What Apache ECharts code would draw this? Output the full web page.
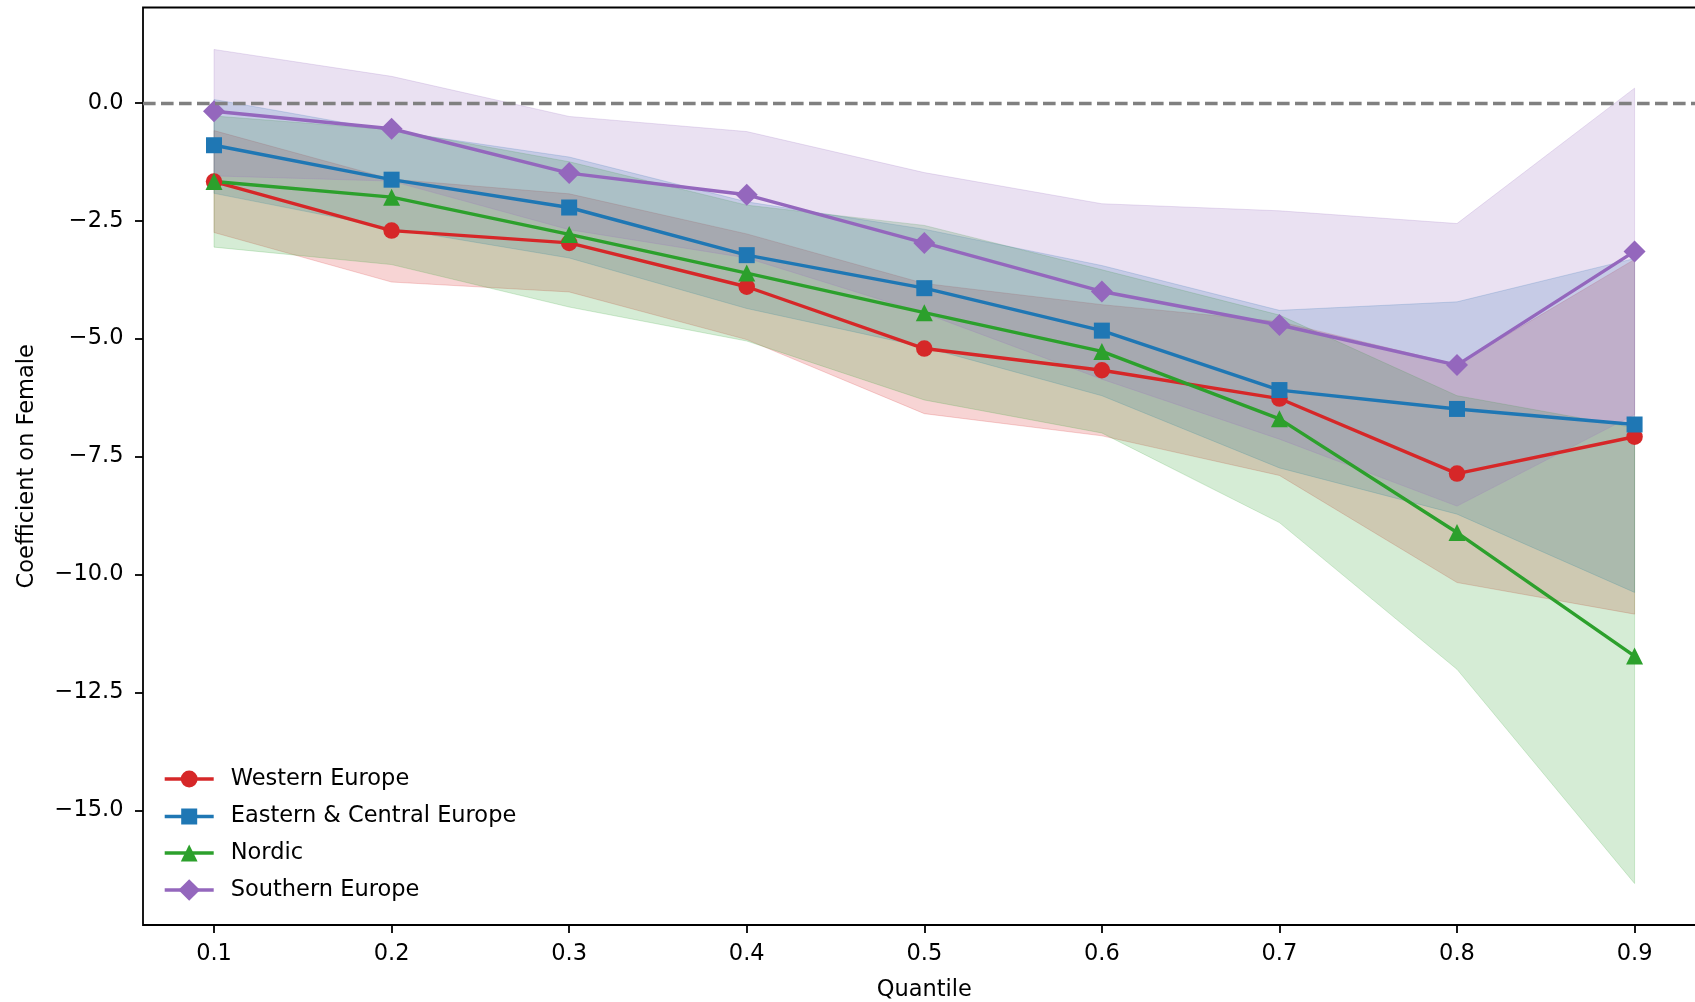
<!DOCTYPE html>
<html>
<head>
<meta charset="utf-8">
<script src="https://cdn.jsdelivr.net/npm/echarts@6/dist/echarts.min.js"></script>
<style>
  html, body { margin: 0; padding: 0; background: #fff; }
  #chart { width: 1695px; height: 1002px; }
</style>
</head>
<body>
<div id="chart"></div>
<script>
// ---------------- data ----------------
const quantiles = [0.1, 0.2, 0.3, 0.4, 0.5, 0.6, 0.7, 0.8, 0.9];
const seriesNames = ['Western Europe', 'Eastern & Central Europe', 'Nordic', 'Southern Europe'];

const westernCoef  = [-1.67, -2.71, -2.97, -3.90, -5.21, -5.67, -6.27, -7.86, -7.08];
const westernLower = [-2.75, -3.80, -4.01, -5.02, -6.59, -7.06, -7.90, -10.17, -10.84];
const westernUpper = [-0.59, -1.62, -1.93, -2.78, -3.83, -4.28, -4.64, -5.55, -3.32];

const easternCoef  = [-0.90, -1.63, -2.22, -3.23, -3.93, -4.83, -6.09, -6.49, -6.82];
const easternLower = [-1.92, -2.66, -3.29, -4.36, -5.18, -6.21, -7.74, -8.72, -10.38];
const easternUpper = [0.07, -0.60, -1.15, -2.10, -2.68, -3.45, -4.40, -4.22, -3.30];

const nordicCoef  = [-1.67, -2.00, -2.79, -3.61, -4.45, -5.27, -6.70, -9.11, -11.73];
const nordicLower = [-3.06, -3.43, -4.33, -5.05, -6.30, -7.00, -8.90, -12.01, -16.55];
const nordicUpper = [-0.28, -0.57, -1.25, -2.17, -2.60, -3.54, -4.50, -6.21, -6.89];

const southernCoef  = [-0.18, -0.55, -1.49, -1.95, -2.97, -4.00, -4.71, -5.56, -3.15];
const southernLower = [-1.55, -1.66, -2.69, -3.29, -4.46, -5.86, -7.13, -8.55, -6.61];
const southernUpper = [1.13, 0.56, -0.29, -0.61, -1.48, -2.14, -2.29, -2.56, 0.31];

const xTickValues = [0.1, 0.2, 0.3, 0.4, 0.5, 0.6, 0.7, 0.8, 0.9];
const yTickValues = [-15, -12.5, -10, -7.5, -5, -2.5, 0];

// ---------------- style ----------------
const FONT = 'DejaVu Sans';
const FS = 22.5;
const colors = ['#d62728', '#1f77b4', '#2ca02c', '#9467bd'];
const symbols = ['circle', 'rect', 'triangle', 'diamond'];
const symbolSizes = [16.5, 16, 17, 22];
const legendItemHeights = [21, 20, 21, 27];
const legendCenters = [778, 815, 852, 892];

function rgba(hex, a) {
  const r = parseInt(hex.slice(1, 3), 16), g = parseInt(hex.slice(3, 5), 16), b = parseInt(hex.slice(5, 7), 16);
  return `rgba(${r},${g},${b},${a})`;
}

function bandSeries(name, lower, upper, color) {
  return {
    type: 'custom',
    name: name + ' CI',
    silent: true,
    z: 1,
    data: quantiles.map((q, i) => [q, lower[i], upper[i]]),
    encode: { x: 0, y: [1, 2] },
    renderItem: function (params, api) {
      if (params.dataIndex !== 0) return null;
      const pts = [];
      for (let i = 0; i < quantiles.length; i++) pts.push(api.coord([quantiles[i], upper[i]]));
      for (let i = quantiles.length - 1; i >= 0; i--) pts.push(api.coord([quantiles[i], lower[i]]));
      return {
        type: 'polygon',
        shape: { points: pts },
        style: { fill: rgba(color, 0.2), stroke: rgba(color, 0.2), lineWidth: 1 }
      };
    }
  };
}

function lineSeries(idx, coef) {
  return {
    type: 'line',
    name: seriesNames[idx],
    z: 3,
    data: quantiles.map((q, i) => [q, coef[i]]),
    symbol: symbols[idx],
    symbolSize: symbolSizes[idx],
    showAllSymbol: true,
    lineStyle: { color: colors[idx], width: 3.4 },
    itemStyle: { color: colors[idx] },
    emphasis: { disabled: true }
  };
}

const coefs = [westernCoef, easternCoef, nordicCoef, southernCoef];
const lowers = [westernLower, easternLower, nordicLower, southernLower];
const uppers = [westernUpper, easternUpper, nordicUpper, southernUpper];

const series = [];
for (let i = 0; i < 4; i++) series.push(bandSeries(seriesNames[i], lowers[i], uppers[i], colors[i]));
for (let i = 0; i < 4; i++) series.push(lineSeries(i, coefs[i]));
// zero reference line
series[4].markLine = {
  silent: true,
  symbol: ['none', 'none'],
  label: { show: false },
  lineStyle: { color: '#808080', type: [12.6, 5.4], width: 3.4 },
  data: [{ yAxis: 0 }],
  animation: false
};

const legends = seriesNames.map((n, i) => ({
  data: [n],
  orient: 'vertical',
  left: 163,
  top: legendCenters[i] - legendItemHeights[i] / 2,
  padding: 0,
  itemWidth: 49,
  itemHeight: legendItemHeights[i],
  selectedMode: false,
  lineStyle: { width: 3.4 },
  textStyle: { fontFamily: FONT, fontSize: FS, color: '#000', padding: [0, 0, 0, 12] }
}));

const fmtY = v => (v < 0 ? '\u2212' : '') + Math.abs(v).toFixed(1);

const option = {
  animation: false,
  backgroundColor: '#ffffff',
  grid: {
    left: 143, top: 7.5, bottom: 77, width: 1562.6,
    outerBoundsMode: 'none',
    containLabel: false,
    show: true, borderColor: '#000', borderWidth: 1.8, backgroundColor: 'transparent'
  },
  legend: legends,
  xAxis: {
    type: 'value',
    min: 0.06, max: 0.94,
    name: 'Quantile',
    nameLocation: 'middle',
    nameGap: 54,
    nameTextStyle: { fontFamily: FONT, fontSize: FS, color: '#000' },
    axisLine: { show: false, onZero: false },
    splitLine: { show: false },
    axisTick: { show: true, length: 8, lineStyle: { color: '#000', width: 1.8 }, customValues: xTickValues },
    axisLabel: {
      fontFamily: FONT, fontSize: FS, color: '#000', margin: 18,
      customValues: xTickValues,
      formatter: v => Number(v).toFixed(1)
    }
  },
  yAxis: {
    type: 'value',
    min: -17.43, max: 2.02,
    name: 'Coefficient on Female',
    nameLocation: 'middle',
    nameRotate: 90,
    nameGap: 104,
    nameTextStyle: { fontFamily: FONT, fontSize: FS, color: '#000' },
    axisLine: { show: false, onZero: false },
    splitLine: { show: false },
    axisTick: { show: true, length: 8, lineStyle: { color: '#000', width: 1.8 }, customValues: yTickValues },
    axisLabel: {
      fontFamily: FONT, fontSize: FS, color: '#000', margin: 19.5,
      customValues: yTickValues,
      formatter: fmtY
    }
  },
  series: series
};

const chart = echarts.init(document.getElementById('chart'), null, { renderer: 'canvas' });
chart.setOption(option);
</script>
</body>
</html>
